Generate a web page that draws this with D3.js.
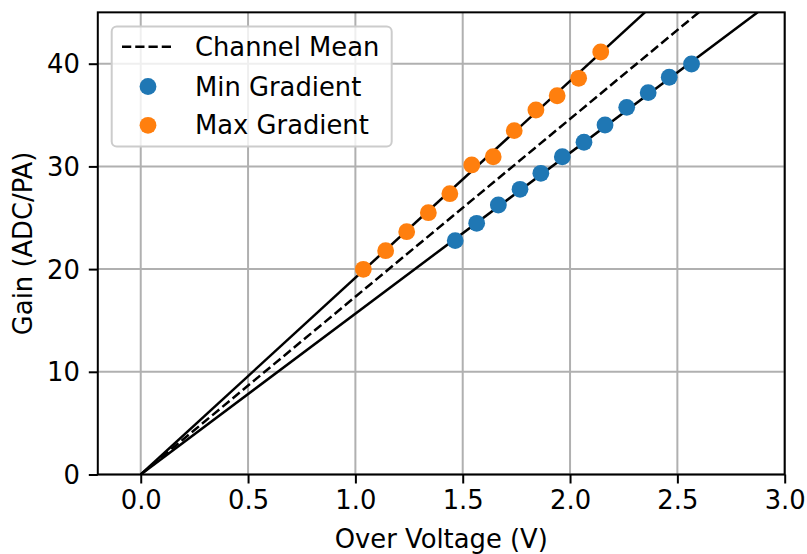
<!DOCTYPE html>
<html>
<head>
<meta charset="utf-8">
<script src="https://cdn.jsdelivr.net/npm/d3@7"></script>
<style>
  html, body { margin: 0; padding: 0; background: #fff; }
  text { font-family: "DejaVu Sans", sans-serif; }
</style>
</head>
<body>
<svg id="chart" width="807" height="554"></svg>
<script>
// ---- Data ----
const maxGradX = [1.037, 1.141, 1.239, 1.340, 1.440, 1.542, 1.642, 1.740, 1.841, 1.940, 2.040, 2.143];
const maxGradY = [19.98, 21.79, 23.64, 25.49, 27.34, 30.14, 30.94, 33.48, 35.49, 36.88, 38.58, 41.14];
const minGradX = [1.465, 1.565, 1.666, 1.767, 1.864, 1.964, 2.065, 2.163, 2.264, 2.364, 2.462, 2.566];
const minGradY = [22.77, 24.46, 26.24, 27.77, 29.33, 30.94, 32.35, 34.03, 35.75, 37.18, 38.68, 39.97];
const slopeMax = 19.16;
const slopeMean = 17.31;
const slopeMin = 15.66;
const lineX = [0, 3.2];
const xTicks = [0.0, 0.5, 1.0, 1.5, 2.0, 2.5, 3.0];
const yTicks = [0, 10, 20, 30, 40];
const legendLabels = ["Channel Mean", "Min Gradient", "Max Gradient"];
const colors = { min: "#1f77b4", max: "#ff7f0e" };

// ---- Layout ----
const svg = d3.select("#chart");
const L = 97.8, R = 784.7, T = 12.35, B = 474.5;
const FS = 25.8;
const x = d3.scaleLinear().domain([-0.2, 3.0]).range([L, R]);
const y = d3.scaleLinear().domain([0, 45]).range([B, T]);

svg.append("defs").append("clipPath").attr("id", "plotclip")
  .append("rect").attr("x", L).attr("y", T).attr("width", R - L).attr("height", B - T);

// Grid
const grid = svg.append("g");
grid.selectAll(".gx").data(xTicks).enter().append("line")
  .attr("x1", d => x(d)).attr("x2", d => x(d)).attr("y1", T).attr("y2", B)
  .attr("stroke", "#b0b0b0").attr("stroke-width", 2);
grid.selectAll(".gy").data(yTicks).enter().append("line")
  .attr("y1", d => y(d)).attr("y2", d => y(d)).attr("x1", L).attr("x2", R)
  .attr("stroke", "#b0b0b0").attr("stroke-width", 2);

// Lines
const plot = svg.append("g").attr("clip-path", "url(#plotclip)");
const lineGen = d3.line().x(d => x(d[0])).y(d => y(d[1]));
function addLine(slope, dashed) {
  plot.append("path")
    .datum(lineX.map(v => [v, v * slope]))
    .attr("d", lineGen)
    .attr("fill", "none")
    .attr("stroke", "#000")
    .attr("stroke-width", 2.5)
    .attr("stroke-dasharray", dashed ? "9.25,4" : null);
}
addLine(slopeMax, false);
addLine(slopeMin, false);
addLine(slopeMean, true);

// Scatter
const R_PT = 8.4;
plot.selectAll(".minp").data(minGradX.map((v, i) => [v, minGradY[i]])).enter()
  .append("circle").attr("cx", d => x(d[0])).attr("cy", d => y(d[1])).attr("r", R_PT)
  .attr("fill", colors.min);
plot.selectAll(".maxp").data(maxGradX.map((v, i) => [v, maxGradY[i]])).enter()
  .append("circle").attr("cx", d => x(d[0])).attr("cy", d => y(d[1])).attr("r", R_PT)
  .attr("fill", colors.max);

// Axes
const xAxis = d3.axisBottom(x).tickValues(xTicks).tickFormat(d3.format(".1f")).tickSize(9).tickPadding(7);
const yAxis = d3.axisLeft(y).tickValues(yTicks).tickFormat(d3.format("d")).tickSize(9).tickPadding(9);
const gx = svg.append("g").attr("transform", `translate(0,${B})`).call(xAxis);
const gy = svg.append("g").attr("transform", `translate(${L},0)`).call(yAxis);
[gx, gy].forEach(g => {
  g.select(".domain").remove();
  g.selectAll(".tick line").attr("stroke", "#000").attr("stroke-width", 2);
  g.selectAll(".tick text").attr("font-size", FS).attr("fill", "#000")
    .attr("font-family", "DejaVu Sans");
});
gy.selectAll(".tick text").attr("dy", "0.35em");

// Frame
svg.append("rect").attr("x", L).attr("y", T).attr("width", R - L).attr("height", B - T)
  .attr("fill", "none").attr("stroke", "#000").attr("stroke-width", 2);

// Axis labels
svg.append("text").attr("x", (L + R) / 2).attr("y", 548).attr("text-anchor", "middle")
  .attr("font-size", FS).text("Over Voltage (V)");
svg.append("text").attr("transform", `translate(32,${(T + B) / 2}) rotate(-90)`)
  .attr("text-anchor", "middle").attr("font-size", FS).text("Gain (ADC/PA)");

// Legend
const lg = svg.append("g");
lg.append("rect").attr("x", 111.7).attr("y", 26.5).attr("width", 280).attr("height", 120)
  .attr("rx", 5).attr("ry", 5)
  .attr("fill", "#fff").attr("fill-opacity", 0.8)
  .attr("stroke", "#cccccc").attr("stroke-width", 2);
const rowsY = [46.7, 86.5, 125.3];
lg.append("line").attr("x1", 122).attr("x2", 173).attr("y1", rowsY[0]).attr("y2", rowsY[0])
  .attr("stroke", "#000").attr("stroke-width", 2.5).attr("stroke-dasharray", "9.25,4");
lg.append("circle").attr("cx", 148).attr("cy", rowsY[1]).attr("r", R_PT).attr("fill", colors.min);
lg.append("circle").attr("cx", 148).attr("cy", rowsY[2]).attr("r", R_PT).attr("fill", colors.max);
lg.selectAll(".lt").data(legendLabels).enter().append("text")
  .attr("x", 195).attr("y", (d, i) => rowsY[i]).attr("dy", "0.35em")
  .attr("font-size", FS).attr("fill", "#000").text(d => d);
</script>
</body>
</html>
